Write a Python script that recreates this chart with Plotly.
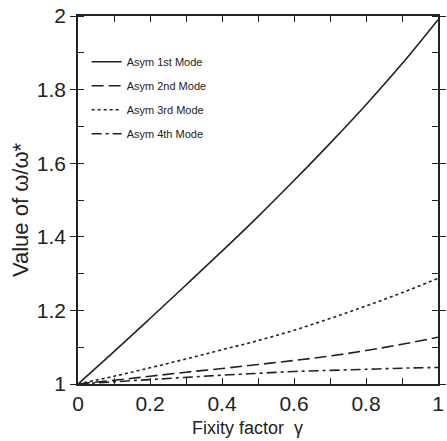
import plotly.graph_objects as go

gamma = [0.0, 0.1, 0.2, 0.3, 0.4, 0.5, 0.6, 0.7, 0.8, 0.9, 1.0]
mode1 = [1.0, 1.088, 1.178, 1.269, 1.361, 1.455, 1.553, 1.654, 1.759, 1.870, 1.99]
mode2 = [1.0, 1.010, 1.021, 1.032, 1.042, 1.053, 1.064, 1.076, 1.091, 1.108, 1.127]
mode3 = [1.0, 1.021, 1.044, 1.068, 1.093, 1.118, 1.146, 1.178, 1.212, 1.248, 1.287]
mode4 = [1.0, 1.006, 1.012, 1.018, 1.024, 1.029, 1.034, 1.037, 1.040, 1.043, 1.045]
names = ["Asym 1st Mode", "Asym 2nd Mode", "Asym 3rd Mode", "Asym 4th Mode"]
dashes = ["solid", "12px,5px", "3px,3px", "10px,4px,3px,4px"]

ink = "#222222"
font_family = "Liberation Sans, Arial, sans-serif"
fig = go.Figure()
for i, (nm, ys) in enumerate(zip(names, [mode1, mode2, mode3, mode4])):
    fig.add_trace(go.Scatter(x=gamma, y=ys, mode="lines", name=nm,
                             legendgroup=f"g{i}",
                             line=dict(color=ink, width=1.6, dash=dashes[i], shape="spline")))

axis_common = dict(showline=True, linecolor=ink, linewidth=1.6, mirror="allticks",
                   ticklen=6, tickwidth=1.2, tickcolor=ink,
                   showgrid=False, zeroline=False, ticklabeloverflow="allow",
                   tickfont=dict(family=font_family, size=21, color=ink))

fig.update_xaxes(range=[0, 1], tickvals=[0, 0.2, 0.4, 0.6, 0.8, 1], ticks="inside",
                 minor=dict(ticks="inside", ticklen=6, dtick=0.1, tickcolor=ink, showgrid=False),
                 **axis_common)
fig.update_yaxes(range=[1, 2], tickvals=[1, 1.2, 1.4, 1.6, 1.8, 2], ticks="outside",
                 minor=dict(ticks="inside", ticklen=6, dtick=0.1, tickcolor=ink, showgrid=False),
                 **axis_common)

fig.add_annotation(text="Fixity factor  γ", xref="paper", yref="paper",
                   x=0.471, y=-0.12, xanchor="center", yanchor="middle", showarrow=False,
                   font=dict(family=font_family, size=18, color=ink))
fig.add_annotation(text="Value of ω/ω*", xref="paper", yref="paper",
                   x=-0.158, y=0.473, xanchor="center", yanchor="middle", showarrow=False,
                   textangle=-90,
                   font=dict(family=font_family, size=22, color=ink))

fig.update_layout(
    width=447, height=441,
    margin=dict(l=78, r=1, t=16, b=57),
    paper_bgcolor="white", plot_bgcolor="white",
    showlegend=True,
    legend=dict(x=0.024, y=0.915, xanchor="left", yanchor="top",
                bgcolor="rgba(0,0,0,0)", traceorder="grouped", tracegroupgap=5,
                font=dict(family=font_family, size=11, color=ink)),
)

fig.write_html("out.html")
